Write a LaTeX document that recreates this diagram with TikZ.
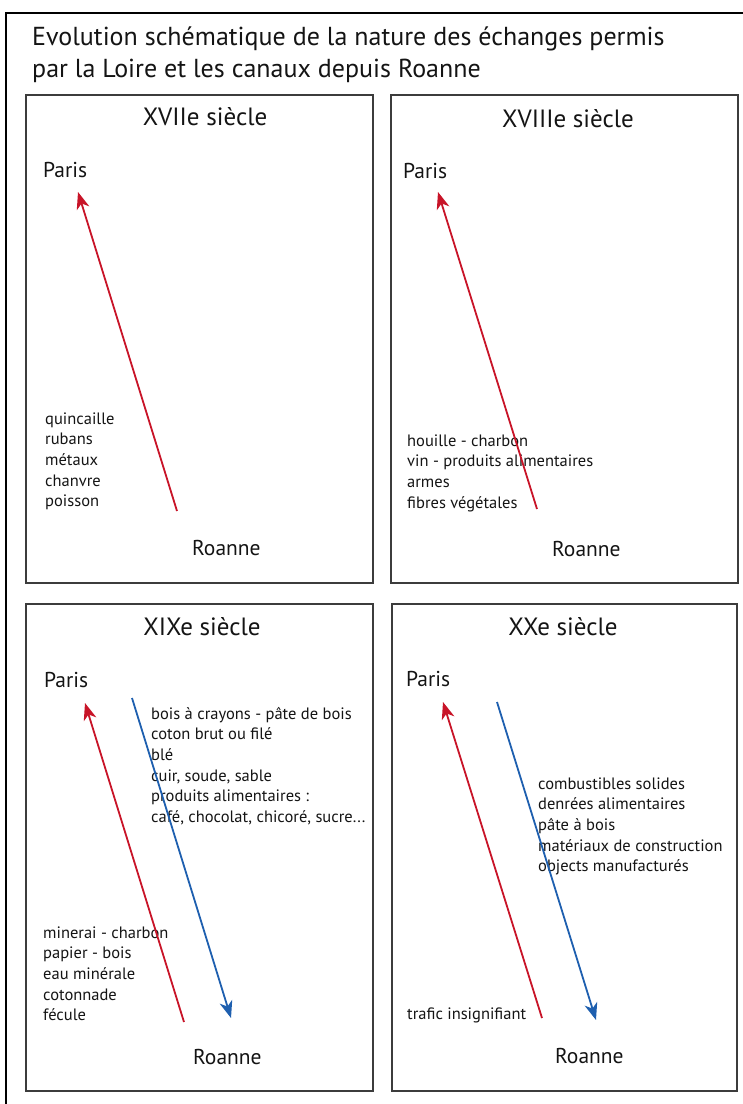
\documentclass[tikz,border=0pt]{standalone}
\usepackage{fontspec}
\setmainfont{PT Sans}
\usetikzlibrary{arrows.meta}
\definecolor{redarr}{RGB}{200,20,40}
\definecolor{bluearr}{RGB}{30,95,175}
\definecolor{ink}{RGB}{20,20,20}
\definecolor{frame}{RGB}{60,60,60}
\tikzset{
  panel/.style={draw=frame, line width=1.4pt},
  outer/.style={draw=black, line width=2.2pt},
  maintitle/.style={anchor=base west, inner sep=0pt, text=ink, font=\fontsize{26}{32}\selectfont},
  ptitle/.style={anchor=base, inner sep=0pt, text=ink, font=\fontsize{25}{30}\selectfont},
  city/.style={anchor=base west, inner sep=0pt, text=ink, font=\fontsize{21.5}{26}\selectfont},
  goods/.style={anchor=base west, inner sep=0pt, text=ink, font=\fontsize{16.5}{20.7}\selectfont},
  uparrow/.style={draw=redarr, line width=1.8pt, -{Stealth[length=17pt,width=13pt,inset=5pt]}},
  downarrow/.style={draw=bluearr, line width=1.8pt, -{Stealth[length=17pt,width=13pt,inset=5pt]}},
}
\newcommand{\lst}[1]{\begin{tabular}[t]{@{}l@{}}#1\end{tabular}}
\begin{document}
\begin{tikzpicture}[x=1pt,y=-1pt]
\useasboundingbox (0,0) rectangle (743,1104);
% outer frame (only top and left visible)
\draw[outer] (6,1110) -- (6,13) -- (750,13);
\node[maintitle] (t1) at (32,45) {Evolution schématique de la nature des échanges permis};
\node[maintitle] (t2) at (32,77) {par la Loire et les canaux depuis Roanne};
% panels
\draw[panel] (26,95) rectangle (373,583);
\draw[panel] (391,95) rectangle (738,583);
\draw[panel] (26,604) rectangle (373,1091);
\draw[panel] (392,604) rectangle (737,1091);
% panel 1
\node[ptitle] (h1) at (205,125) {XVIIe siècle};
\node[city] (pa1) at (43,177) {Paris};
\node[city] (ro1) at (192,555) {Roanne};
\node[goods] (g1) at (45,424) {\lst{quincaille\\rubans\\métaux\\chanvre\\poisson}};
\coordinate (a1s) at (177,511);
\coordinate (a1e) at (78,192);
\draw[uparrow] (a1s) -- (a1e);
% panel 2
\node[ptitle] (h2) at (568,127) {XVIIIe siècle};
\node[city] (pa2) at (403,178) {Paris};
\node[city] (ro2) at (552,556) {Roanne};
\node[goods] (g2) at (407,446) {\lst{houille - charbon\\vin - produits alimentaires\\armes\\fibres végétales}};
\coordinate (a2s) at (537,509);
\coordinate (a2e) at (438,192);
\draw[uparrow] (a2s) -- (a2e);
% panel 3
\node[ptitle] (h3) at (202,635) {XIXe siècle};
\node[city] (pa3) at (44,687) {Paris};
\node[city] (ro3) at (193,1064) {Roanne};
\node[goods] (g3r) at (151,719) {\lst{bois à crayons - pâte de bois\\coton brut ou filé\\blé\\cuir, soude, sable\\produits alimentaires :\\café, chocolat, chicoré, sucre...}};
\node[goods] (g3l) at (43,938) {\lst{minerai - charbon\\papier - bois\\eau minérale\\cotonnade\\fécule}};
\coordinate (a3s) at (184,1022);
\coordinate (a3e) at (85,703);
\draw[uparrow] (a3s) -- (a3e);
\coordinate (b3s) at (132,698);
\coordinate (b3e) at (231,1018);
\draw[downarrow] (b3s) -- (b3e);
% panel 4
\node[ptitle] (h4) at (563,635) {XXe siècle};
\node[city] (pa4) at (406,686) {Paris};
\node[city] (ro4) at (555,1063) {Roanne};
\node[goods] (g4r) at (538,789) {\lst{combustibles solides\\denrées alimentaires\\pâte à bois\\matériaux de construction\\objects manufacturés}};
\node[goods] (g4l) at (407,1019) {trafic insignifiant};
\coordinate (a4s) at (542,1018);
\coordinate (a4e) at (443,702);
\draw[uparrow] (a4s) -- (a4e);
\coordinate (b4s) at (497,702);
\coordinate (b4e) at (596,1020);
\draw[downarrow] (b4s) -- (b4e);
\end{tikzpicture}
\end{document}
